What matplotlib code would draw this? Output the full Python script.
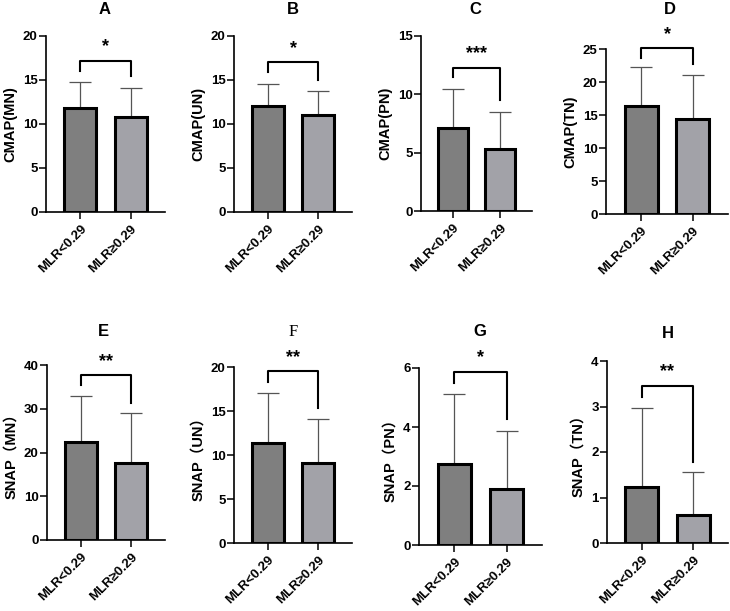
import matplotlib.pyplot as plt

plt.rcParams['font.family'] = ['Liberation Sans', 'Noto Sans CJK SC', 'DejaVu Sans']
plt.rcParams['font.weight'] = 'bold'

# Data
groups = ["MLR<0.29", "MLR≥0.29"]
titles = ["A", "B", "C", "D", "E", "F", "G", "H"]
ylabels = ["CMAP(MN)", "CMAP(UN)", "CMAP(PN)", "CMAP(TN)",
           "SNAP（MN）", "SNAP（UN）", "SNAP（PN）", "SNAP（TN）"]
means_low = [11.8, 12.0, 7.1, 16.4, 22.3, 11.4, 2.74, 1.22]
means_high = [10.8, 11.0, 5.3, 14.4, 17.7, 9.1, 1.89, 0.62]
sd_low = [3.0, 2.6, 3.4, 5.8, 10.6, 5.7, 2.38, 1.74]
sd_high = [3.3, 2.8, 3.2, 6.7, 11.3, 5.0, 1.97, 0.93]
ymax = [20, 20, 15, 25, 40, 20, 6, 4]
ystep = [5, 5, 5, 5, 10, 5, 2, 1]
stars = ["*", "*", "***", "*", "**", "**", "*", "**"]
# bracket: top, left leg end, right leg end (data units)
bracket_top = [17.2, 17.0, 12.3, 25.2, 37.7, 19.5, 5.87, 3.45]
bracket_left = [16.0, 15.9, 11.5, 23.7, 35.4, 18.3, 5.5, 3.2]
bracket_right = [15.4, 15.0, 9.5, 22.7, 31.4, 15.3, 4.26, 1.79]

# axes boxes in pixels: left, right, top, bottom
boxes = [(46, 165, 36, 212), (234, 352, 36, 212), (421, 532, 36, 211), (606, 728, 49, 214),
         (47, 165, 365, 540), (234, 352, 367, 543), (419, 542, 368, 545), (607, 728, 361, 543)]
title_pos = [(105, 10), (293, 10), (475, 10), (670, 10),
             (103, 332), (293, 332), (480, 332), (668, 333)]

W, H = 730, 611
fig = plt.figure(figsize=(W / 100, H / 100), dpi=100)

for i in range(8):
    l, r, t, b = boxes[i]
    ax = fig.add_axes([l / W, 1 - b / H, (r - l) / W, (b - t) / H])
    ax.bar([0, 1], [means_low[i], means_high[i]], width=0.64,
           color=['#7f7f7f', '#a2a2a8'], edgecolor='black', linewidth=2.2, zorder=2)
    ax.errorbar([0, 1], [means_low[i], means_high[i]],
                yerr=[[0, 0], [sd_low[i], sd_high[i]]], fmt='none',
                ecolor='#555555', elinewidth=0.9, capsize=8, capthick=0.9, zorder=1)
    ax.plot([0, 0, 1, 1], [bracket_left[i], bracket_top[i], bracket_top[i], bracket_right[i]],
            color='black', lw=1.5, clip_on=False)
    ax.text(0.5, bracket_top[i] + ymax[i] * 0.03, stars[i], ha='center', va='bottom',
            fontsize=13, fontweight='bold')
    ax.set_xlim(-0.68, 1.68)
    ax.set_ylim(0, ymax[i])
    ax.set_yticks(range(0, ymax[i] + 1, ystep[i]))
    ax.set_xticks([0, 1])
    ax.set_xticklabels(groups, rotation=45, ha='right', rotation_mode='anchor', fontsize=9.5)
    ax.tick_params(axis='y', labelsize=9.5, width=1.1, length=5, pad=1)
    ax.tick_params(axis='x', width=1.1, length=5, pad=3)
    for s in ['top', 'right']:
        ax.spines[s].set_visible(False)
    for s in ['left', 'bottom']:
        ax.spines[s].set_linewidth(1.2)
    ax.set_ylabel(ylabels[i], fontsize=10.5, fontweight='bold', labelpad=4)

    tx, ty = title_pos[i]
    if titles[i] == "F":
        fig.text(tx / W, 1 - ty / H, titles[i], ha='center', va='center',
                 fontsize=12, family='Liberation Serif', fontweight='normal')
    else:
        fig.text(tx / W, 1 - ty / H, titles[i], ha='center', va='center',
                 fontsize=12, fontweight='bold')

fig.savefig('out.png', dpi=100)
